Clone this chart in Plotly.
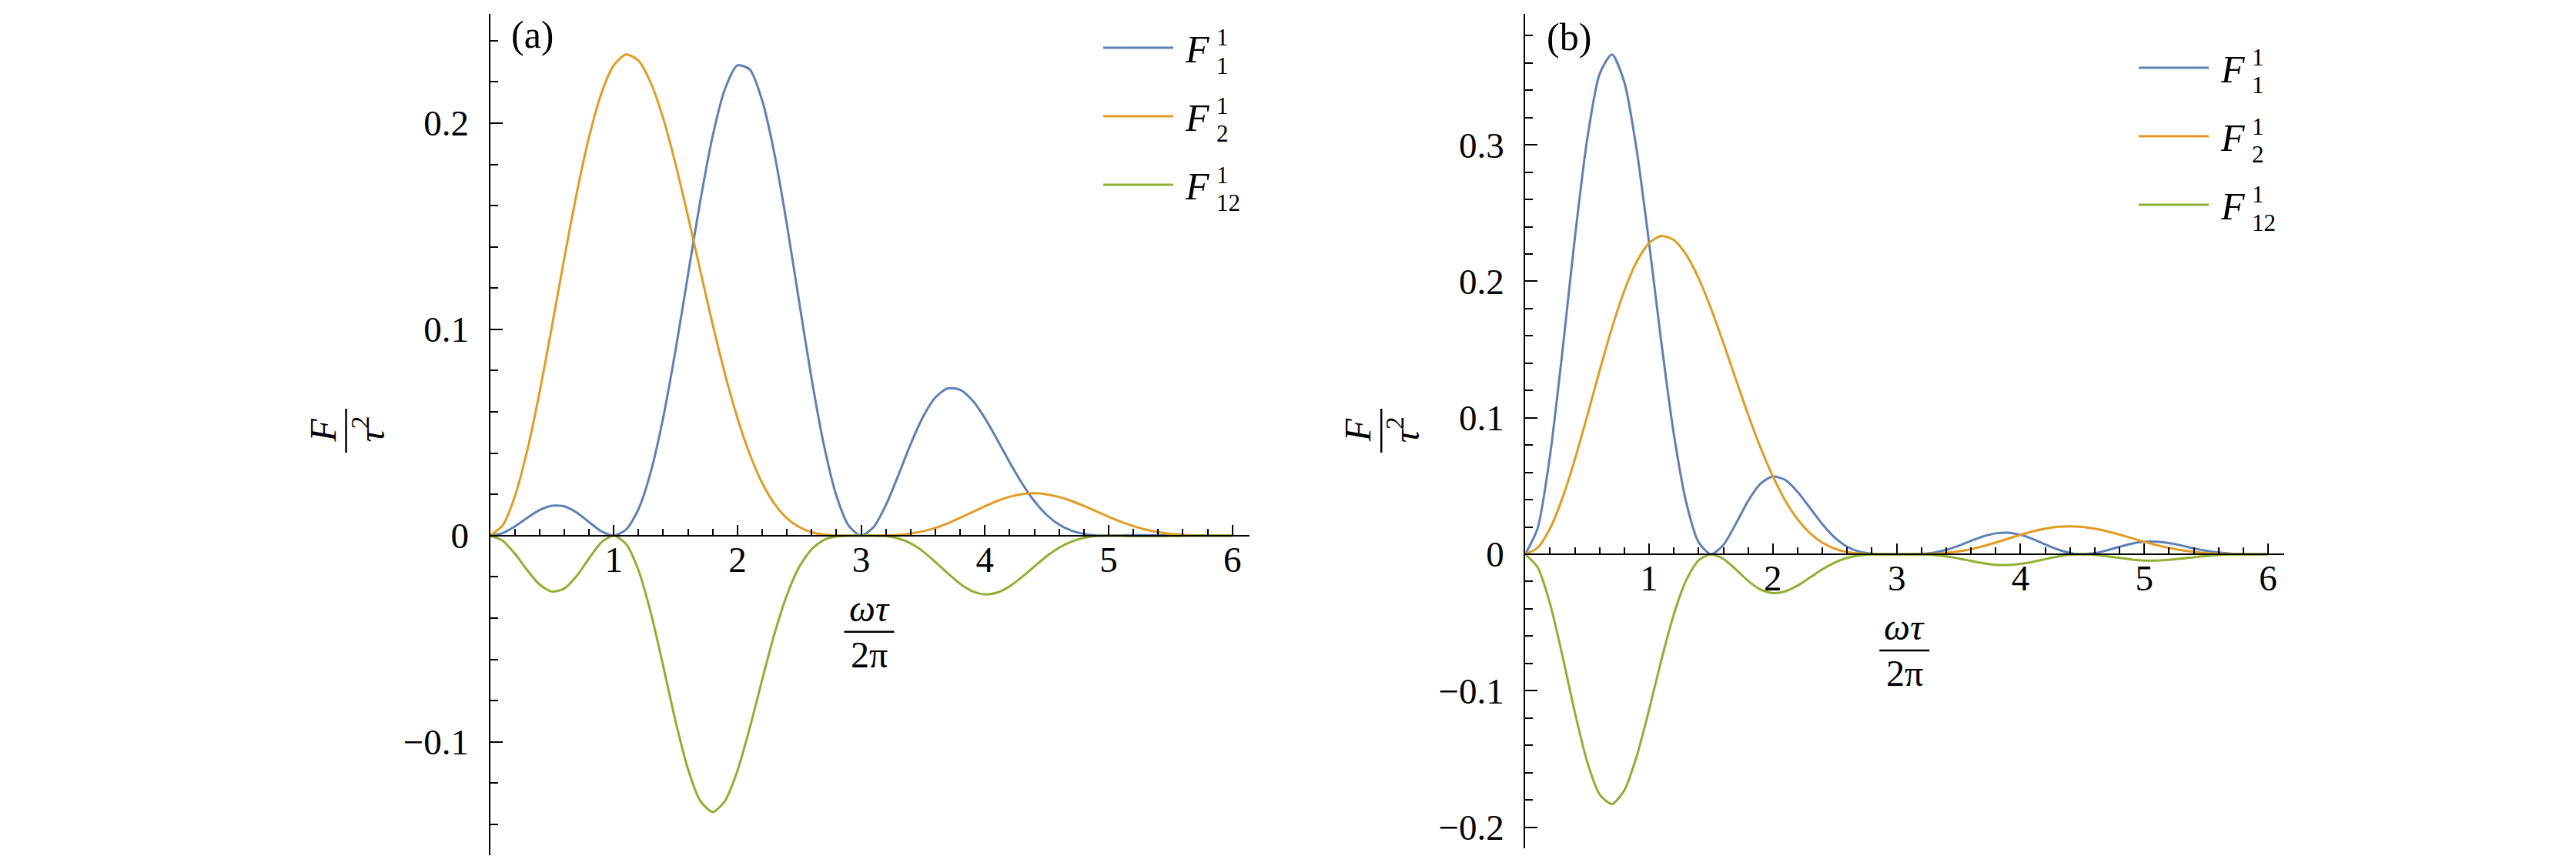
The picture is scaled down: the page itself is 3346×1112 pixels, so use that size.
import plotly.graph_objects as go

# ---------------- data ----------------
x_vals = [0.0, 0.1, 0.2, 0.3, 0.4, 0.5, 0.6, 0.7, 0.8, 0.9,
          1.0, 1.1, 1.2, 1.3, 1.4, 1.5, 1.6, 1.7, 1.8, 1.9,
          2.0, 2.1, 2.2, 2.3, 2.4, 2.5, 2.6, 2.7, 2.8, 2.9,
          3.0, 3.1, 3.2, 3.3, 3.4, 3.5, 3.6, 3.7, 3.8, 3.9,
          4.0, 4.1, 4.2, 4.3, 4.4, 4.5, 4.6, 4.7, 4.8, 4.9,
          5.0, 5.1, 5.2, 5.3, 5.4, 5.5, 5.6, 5.7, 5.8, 5.9, 6.0]

# panel (a)
a_F1 = [0.0, 0.0012, 0.0044, 0.0086, 0.0124, 0.0145, 0.0142, 0.0112, 0.0066, 0.0021,
        0.0, 0.0029, 0.0128, 0.0310, 0.0573, 0.0901, 0.1264, 0.1624, 0.1939, 0.2167,
        0.2280, 0.2260, 0.2110, 0.1848, 0.1507, 0.1129, 0.0758, 0.0436, 0.0193, 0.0047,
        0.0, 0.0041, 0.0148, 0.0292, 0.0444, 0.0576, 0.0670, 0.0714, 0.0707, 0.0655,
        0.0570, 0.0465, 0.0356, 0.0254, 0.0167, 0.0100, 0.0053, 0.0024, 0.0008, 0.0001,
        0.0, 0.0001, 0.0002, 0.0002, 0.0002, 0.0001, 0.0001, 0.0, 0.0, 0.0, 0.0]
a_F2 = [0.0, 0.0048, 0.0189, 0.0411, 0.0693, 0.1013, 0.1344, 0.1658, 0.1931, 0.2144,
        0.2280, 0.2333, 0.2303, 0.2195, 0.2023, 0.1801, 0.1549, 0.1284, 0.1023, 0.0782,
        0.0570, 0.0394, 0.0255, 0.0154, 0.0084, 0.0041, 0.0016, 0.0005, 0.0001, 0.0,
        0.0, 0.0, 0.0001, 0.0003, 0.0010, 0.0021, 0.0037, 0.0059, 0.0086, 0.0114,
        0.0142, 0.0168, 0.0188, 0.0201, 0.0205, 0.0200, 0.0187, 0.0168, 0.0144, 0.0118,
        0.0091, 0.0067, 0.0046, 0.0029, 0.0017, 0.0008, 0.0004, 0.0001, 0.0, 0.0, 0.0]
a_F12 = [0.0, -0.0024, -0.0087, -0.0167, -0.0237, -0.0271, -0.0257, -0.0196, -0.0111, -0.0033,
         0.0, -0.0041, -0.0168, -0.0375, -0.0633, -0.0901, -0.1132, -0.1287, -0.1340, -0.1286,
         -0.1140, -0.0932, -0.0698, -0.0475, -0.0288, -0.0151, -0.0066, -0.0021, -0.0004, 0.0,
         0.0, 0.0, -0.0003, -0.0014, -0.0038, -0.0077, -0.0128, -0.0183, -0.0234, -0.0270,
         -0.0285, -0.0276, -0.0246, -0.0201, -0.0150, -0.0100, -0.0059, -0.0029, -0.0011, -0.0002,
         0.0, -0.0001, -0.0003, -0.0003, -0.0003, -0.0002, -0.0001, 0.0, 0.0, 0.0, 0.0]

# panel (b)
b_F1 = [0.0, 0.0191, 0.0725, 0.1486, 0.2314, 0.3040, 0.3518, 0.3663, 0.3459, 0.2962,
        0.2280, 0.1544, 0.0880, 0.0380, 0.0088, 0.0, 0.0068, 0.0222, 0.0391, 0.0517,
        0.0570, 0.0544, 0.0457, 0.0339, 0.0220, 0.0122, 0.0055, 0.0018, 0.0004, 0.0,
        0.0, 0.0, 0.0003, 0.0012, 0.0032, 0.0062, 0.0098, 0.0131, 0.0153, 0.0158,
        0.0142, 0.0111, 0.0072, 0.0035, 0.0009, 0.0, 0.0008, 0.0029, 0.0055, 0.0078,
        0.0091, 0.0092, 0.0082, 0.0064, 0.0043, 0.0025, 0.0012, 0.0004, 0.0001, 0.0, 0.0]
b_F2 = [0.0, 0.0048, 0.0189, 0.0411, 0.0693, 0.1013, 0.1344, 0.1658, 0.1931, 0.2144,
        0.2280, 0.2333, 0.2303, 0.2195, 0.2023, 0.1801, 0.1549, 0.1284, 0.1023, 0.0782,
        0.0570, 0.0394, 0.0255, 0.0154, 0.0084, 0.0041, 0.0016, 0.0005, 0.0001, 0.0,
        0.0, 0.0, 0.0001, 0.0003, 0.0010, 0.0021, 0.0037, 0.0059, 0.0086, 0.0114,
        0.0142, 0.0168, 0.0188, 0.0201, 0.0205, 0.0200, 0.0187, 0.0168, 0.0144, 0.0118,
        0.0091, 0.0067, 0.0046, 0.0029, 0.0017, 0.0008, 0.0004, 0.0001, 0.0, 0.0, 0.0]
b_F12 = [0.0, -0.0096, -0.0362, -0.0743, -0.1157, -0.1520, -0.1759, -0.1831, -0.1730, -0.1481,
         -0.1140, -0.0772, -0.0440, -0.0190, -0.0044, 0.0, -0.0034, -0.0111, -0.0195, -0.0259,
         -0.0285, -0.0272, -0.0229, -0.0170, -0.0110, -0.0061, -0.0027, -0.0009, -0.0002, 0.0,
         0.0, 0.0, -0.0001, -0.0006, -0.0016, -0.0031, -0.0049, -0.0066, -0.0077, -0.0079,
         -0.0071, -0.0056, -0.0036, -0.0017, -0.0004, 0.0, -0.0004, -0.0015, -0.0027, -0.0039,
         -0.0046, -0.0046, -0.0041, -0.0032, -0.0022, -0.0013, -0.0006, -0.0002, 0.0, 0.0, 0.0]

series_names = ["F_1^1", "F_2^1", "F_12^1"]
series_sub = ["1", "2", "12"]
series_sup = ["1", "1", "1"]
x_tick_vals = [1, 2, 3, 4, 5, 6]
a_y_ticks = [-0.1, 0, 0.1, 0.2]
b_y_ticks = [-0.2, -0.1, 0, 0.1, 0.2, 0.3]
panel_tags = ["(a)", "(b)"]

# ---------------- styling / layout ----------------
COLORS = ["#5E81B5", "#E19C24", "#8FB032"]
FONT = "'Liberation Serif', 'Times New Roman', 'DejaVu Serif', serif"
W, H = 3346, 1112


def px(v):
    return v / W


def py(v):
    return 1 - v / H


panels = [
    dict(data=[a_F1, a_F2, a_F12], x0=628.5, x1=1615, y0=10, y1=1103,
         yr=[-0.155, 0.253], xr=[0, 6.139], yt=a_y_ticks, tag=panel_tags[0],
         tag_xy=(684, 37), leg=(1425, 54)),
    dict(data=[b_F1, b_F2, b_F12], x0=1973.2, x1=2959, y0=10, y1=1094,
         yr=[-0.2155, 0.396], xr=[0, 6.13], yt=b_y_ticks, tag=panel_tags[1],
         tag_xy=(2030, 40), leg=(2770, 80)),
]

fig = go.Figure()
shapes = []
annotations = []
layout = {}

for i, p in enumerate(panels):
    sfx = "" if i == 0 else str(i + 1)
    for k in range(3):
        fig.add_trace(go.Scatter(
            x=x_vals, y=p["data"][k], mode="lines", name=series_names[k],
            line=dict(color=COLORS[k], width=3, shape="spline", smoothing=0.7),
            xaxis="x" + sfx, yaxis="y" + sfx, showlegend=False,
            hoverinfo="skip"))

    ydom = [py(p["y1"]), py(p["y0"])]
    zero_pos = ydom[0] + (0 - p["yr"][0]) / (p["yr"][1] - p["yr"][0]) * (ydom[1] - ydom[0])
    layout["xaxis" + sfx] = dict(
        domain=[px(p["x0"]), px(p["x1"])], range=p["xr"], anchor="free",
        position=zero_pos, showline=True, linecolor="black", linewidth=2,
        ticks="inside", ticklen=13, tickwidth=2, tickcolor="black",
        tickvals=x_tick_vals, ticktext=[str(v) for v in x_tick_vals],
        tickfont=dict(family=FONT, size=47, color="black"),
        ticklabelstandoff=-10,
        minor=dict(dtick=0.2, tick0=0, ticks="inside", ticklen=8,
                   tickwidth=2, tickcolor="black", showgrid=False),
        showgrid=False, zeroline=False, fixedrange=True)
    layout["yaxis" + sfx] = dict(
        domain=ydom, range=p["yr"], anchor="x" + sfx,
        showline=True, linecolor="black", linewidth=2,
        ticks="inside", ticklen=16, tickwidth=2, tickcolor="black",
        tickvals=p["yt"], ticktext=[("\u2212" if v < 0 else "") + (f"{abs(v):g}") for v in p["yt"]],
        tickfont=dict(family=FONT, size=47, color="black"),
        ticklabelstandoff=16,
        minor=dict(dtick=0.02, tick0=0, ticks="inside", ticklen=10,
                   tickwidth=2, tickcolor="black", showgrid=False),
        showgrid=False, zeroline=False, fixedrange=True)

    ox = p["x0"]
    oy = p["y1"] - (0 - p["yr"][0]) / (p["yr"][1] - p["yr"][0]) * (p["y1"] - p["y0"])

    # panel tag
    annotations.append(dict(x=px(p["tag_xy"][0]), y=py(p["tag_xy"][1]), xref="paper", yref="paper",
                            text=p["tag"], showarrow=False, xanchor="center", yanchor="middle",
                            font=dict(family=FONT, size=50, color="black")))

    # y-axis label: fraction F / tau^2, rotated
    annotations.append(dict(x=px(ox - 217), y=py(551), xref="paper", yref="paper",
                            text="<i>F</i>", textangle=-90, showarrow=False,
                            xanchor="center", yanchor="middle",
                            font=dict(family=FONT, size=48, color="black")))
    shapes.append(dict(type="line", xref="paper", yref="paper",
                       x0=px(ox - 187), x1=px(ox - 187), y0=py(523), y1=py(580),
                       line=dict(color="black", width=2.5)))
    annotations.append(dict(x=px(ox - 158), y=py(550), xref="paper", yref="paper",
                            text="<i>τ</i><sup>2</sup>", textangle=-90, showarrow=False,
                            xanchor="center", yanchor="middle",
                            font=dict(family=FONT, size=48, color="black")))

    # x-axis label: fraction omega tau / 2 pi
    annotations.append(dict(x=px(ox + 492.5), y=py(oy + 95), xref="paper", yref="paper",
                            text="<i>ωτ</i>", showarrow=False, xanchor="center", yanchor="middle",
                            font=dict(family=FONT, size=48, color="black")))
    shapes.append(dict(type="line", xref="paper", yref="paper",
                       x0=px(ox + 460), x1=px(ox + 525), y0=py(oy + 125), y1=py(oy + 125),
                       line=dict(color="black", width=2.5)))
    annotations.append(dict(x=px(ox + 492.5), y=py(oy + 155), xref="paper", yref="paper",
                            text="2π", showarrow=False, xanchor="center", yanchor="middle",
                            font=dict(family=FONT, size=48, color="black")))

    # legend (drawn manually to stack sub/superscripts)
    lx, ly = p["leg"]
    for k in range(3):
        yk = ly + 89 * k
        shapes.append(dict(type="line", xref="paper", yref="paper",
                           x0=px(lx), x1=px(lx + 91), y0=py(yk), y1=py(yk),
                           line=dict(color=COLORS[k], width=3)))
        annotations.append(dict(x=px(lx + 104), y=py(yk + 2), xref="paper", yref="paper",
                                text="<i>F</i>", showarrow=False, xanchor="left", yanchor="middle",
                                font=dict(family=FONT, size=50, color="black")))
        annotations.append(dict(x=px(lx + 145), y=py(yk - 13), xref="paper", yref="paper",
                                text=series_sup[k], showarrow=False, xanchor="left", yanchor="middle",
                                font=dict(family=FONT, size=31, color="black")))
        annotations.append(dict(x=px(lx + 145), y=py(yk + 23), xref="paper", yref="paper",
                                text=series_sub[k], showarrow=False, xanchor="left", yanchor="middle",
                                font=dict(family=FONT, size=31, color="black")))

fig.update_layout(
    width=W, height=H, margin=dict(l=0, r=0, t=0, b=0),
    paper_bgcolor="white", plot_bgcolor="white",
    showlegend=False, shapes=shapes, annotations=annotations,
    **layout)

fig.write_html("out.html", config={"displayModeBar": False})
